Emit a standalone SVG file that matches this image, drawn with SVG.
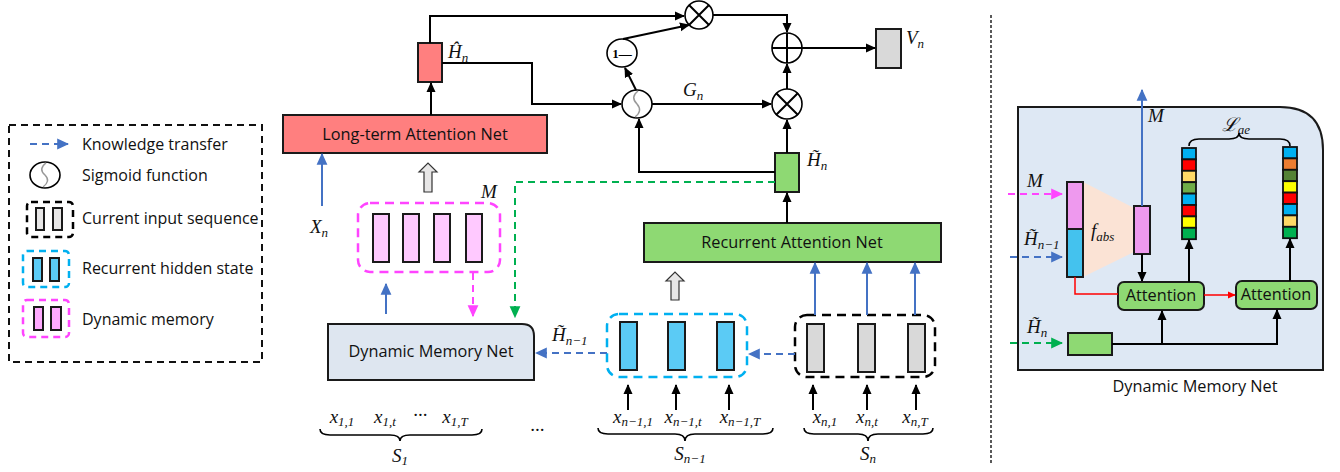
<svg xmlns="http://www.w3.org/2000/svg" width="1340" height="472" viewBox="0 0 1340 472">
<defs>
<style>
.t{font-family:"Open Sans","Liberation Sans",sans-serif;fill:#111;}
.lbl{font-size:16.3px;text-anchor:middle;}
.leg{font-size:16px;}
.m{font-family:"Liberation Serif","DejaVu Serif",serif;font-style:italic;fill:#111;font-size:19px;}
.sub{font-size:13px;}
.bx{stroke:#1a1a1a;stroke-width:2;}
.ln{fill:none;stroke:#000;stroke-width:2;}
.bl{fill:none;stroke:#4472C4;stroke-width:2;}
.bd{fill:none;stroke:#4472C4;stroke-width:2;stroke-dasharray:7 5;}
.md{fill:none;stroke:#FF44FF;stroke-width:2;stroke-dasharray:7 5;}
.gd{fill:none;stroke:#00B050;stroke-width:2;stroke-dasharray:7 5;}
.op{fill:#fff;stroke:#000;stroke-width:1.6;}
.hol{fill:#E7E6E6;stroke:#333;stroke-width:1.2;}
.br{fill:none;stroke:#000;stroke-width:1.6;}
</style>
<marker id="ah" viewBox="0 0 10 10" refX="9" refY="5" markerWidth="10" markerHeight="10" markerUnits="userSpaceOnUse" orient="auto"><path d="M0,0.5 L10,5 L0,9.5 z" fill="#000"/></marker>
<marker id="ab" viewBox="0 0 10 10" refX="9" refY="5" markerWidth="12" markerHeight="12" markerUnits="userSpaceOnUse" orient="auto"><path d="M0,0.5 L10,5 L0,9.5 z" fill="#4472C4"/></marker>
<marker id="am" viewBox="0 0 10 10" refX="9" refY="5" markerWidth="12" markerHeight="12" markerUnits="userSpaceOnUse" orient="auto"><path d="M0,0.5 L10,5 L0,9.5 z" fill="#FF44FF"/></marker>
<marker id="ag" viewBox="0 0 10 10" refX="9" refY="5" markerWidth="12" markerHeight="12" markerUnits="userSpaceOnUse" orient="auto"><path d="M0,0.5 L10,5 L0,9.5 z" fill="#00B050"/></marker>
<marker id="ar" viewBox="0 0 10 10" refX="9" refY="5" markerWidth="8" markerHeight="8" markerUnits="userSpaceOnUse" orient="auto"><path d="M0,0.5 L10,5 L0,9.5 z" fill="#FF0000"/></marker>
</defs>

<!-- Legend -->
<g id="legend">
<rect x="9" y="125" width="253" height="237" fill="#fff" stroke="#111" stroke-width="2" stroke-dasharray="7 5"/>
<path d="M30,144 H68" class="bd" marker-end="url(#ab)"/>
<text class="t leg" x="82" y="150">Knowledge transfer</text>
<ellipse cx="45" cy="175" rx="15" ry="13" class="op"/>
<path d="M46,163 Q38,169 45,175 Q51,181 43,187" fill="none" stroke="#999" stroke-width="1.5"/>
<text class="t leg" x="82" y="181">Sigmoid function</text>
<rect x="27" y="202" width="46" height="35" rx="4" fill="none" stroke="#000" stroke-width="2.5" stroke-dasharray="7 5"/>
<rect x="36" y="208" width="8" height="22" fill="#E7E6E6" class="bx"/>
<rect x="53" y="208" width="9" height="22" fill="#E7E6E6" class="bx"/>
<text class="t leg" x="82" y="224">Current input sequence</text>
<rect x="23" y="251" width="46" height="36" rx="4" fill="none" stroke="#00B0F0" stroke-width="2.5" stroke-dasharray="7 5"/>
<rect x="33" y="258" width="9" height="23" fill="#5BCBF5" class="bx"/>
<rect x="50" y="258" width="9" height="23" fill="#5BCBF5" class="bx"/>
<text class="t leg" x="82" y="274">Recurrent hidden state</text>
<rect x="23" y="300" width="46" height="37" rx="4" fill="none" stroke="#FF44FF" stroke-width="2.5" stroke-dasharray="7 5"/>
<rect x="34" y="307" width="9" height="23" fill="#FFAAFF" class="bx"/>
<rect x="51" y="307" width="10" height="23" fill="#FFAAFF" class="bx"/>
<text class="t leg" x="82" y="325">Dynamic memory</text>
</g>

<!-- Main nodes -->
<g id="long-term-attention-net">
<rect x="283" y="115" width="264" height="38" fill="#FF7F7F" class="bx"/>
<text class="t lbl" x="415" y="140">Long-term Attention Net</text>
</g>
<g id="h-hat">
<rect x="418" y="43" width="24" height="39" fill="#FF7F7F" class="bx"/>
<text class="m" x="448" y="58">Ĥ<tspan class="sub" dy="4">n</tspan></text>
</g>
<g id="mult-top"><circle cx="699" cy="15" r="14" class="op"/><path d="M689,5 L709,25 M709,5 L689,25" class="ln" stroke-width="1.6"/></g>
<g id="one-minus"><ellipse cx="622" cy="53" rx="15" ry="14" class="op"/><text x="622" y="58" text-anchor="middle" font-family="Liberation Serif,serif" font-weight="bold" font-size="13">1—</text></g>
<g id="sigmoid"><ellipse cx="637" cy="104" rx="15" ry="14" class="op"/><path d="M638,91 Q630,97 637,104 Q643,111 635,117" fill="none" stroke="#999" stroke-width="1.5"/></g>
<g id="plus"><circle cx="787" cy="48" r="15" class="op"/><path d="M772,48 H802 M787,33 V63" class="ln" stroke-width="1.6"/></g>
<g id="mult-bottom"><circle cx="787" cy="104" r="15" class="op"/><path d="M776,93 L798,115 M798,93 L776,115" class="ln" stroke-width="1.6"/></g>
<g id="v-n">
<rect x="876" y="29" width="25" height="39" fill="#D9D9D9" class="bx"/>
<text class="m" x="906" y="44">V<tspan class="sub" dy="4">n</tspan></text>
</g>
<g id="h-tilde">
<rect x="775" y="153" width="24" height="39" fill="#8ED973" class="bx"/>
<text class="m" x="807" y="166">H̃<tspan class="sub" dy="4">n</tspan></text>
</g>
<g id="recurrent-attention-net">
<rect x="644" y="223" width="297" height="39" fill="#8ED973" class="bx"/>
<text class="t lbl" x="792" y="248">Recurrent Attention Net</text>
</g>
<g id="memory-M">
<rect x="358" y="203" width="142" height="69" rx="12" fill="none" stroke="#FF44FF" stroke-width="2.5" stroke-dasharray="9 6"/>
<rect x="373" y="214" width="16" height="48" fill="#FFC9FF" class="bx"/>
<rect x="403" y="214" width="16" height="48" fill="#FFC9FF" class="bx"/>
<rect x="434" y="214" width="16" height="48" fill="#FFC9FF" class="bx"/>
<rect x="466" y="214" width="16" height="48" fill="#FFC9FF" class="bx"/>
<text class="m" x="481" y="198">M</text>
</g>
<g id="dynamic-memory-net">
<path d="M328,324 H522 Q534,324 534,336 V380 H328 Z" fill="#DEE6F0" class="bx"/>
<text class="t lbl" x="431" y="357">Dynamic Memory Net</text>
</g>
<g id="hidden-state">
<rect x="607" y="314" width="140" height="63" rx="12" fill="none" stroke="#00B0F0" stroke-width="2.5" stroke-dasharray="9 6"/>
<rect x="620" y="322" width="17" height="48" fill="#5BCBF5" class="bx"/>
<rect x="668" y="322" width="17" height="48" fill="#5BCBF5" class="bx"/>
<rect x="717" y="322" width="17" height="48" fill="#5BCBF5" class="bx"/>
</g>
<g id="input-sequence">
<rect x="795" y="315" width="140" height="62" rx="12" fill="none" stroke="#000" stroke-width="2.5" stroke-dasharray="9 6"/>
<rect x="807" y="324" width="17" height="48" fill="#D9D9D9" class="bx"/>
<rect x="858" y="324" width="17" height="48" fill="#D9D9D9" class="bx"/>
<rect x="908" y="324" width="17" height="48" fill="#D9D9D9" class="bx"/>
</g>

<!-- Labels -->
<g id="labels">
<text class="m" x="683" y="96">G<tspan class="sub" dy="4">n</tspan></text>
<text class="m" x="310" y="233">X<tspan class="sub" dy="4">n</tspan></text>
<text class="m" x="552" y="341">H̃<tspan class="sub" dy="4">n−1</tspan></text>
<text class="m" x="342" y="423" text-anchor="middle">x<tspan class="sub" dy="3">1,1</tspan></text>
<text class="m" x="385" y="423" text-anchor="middle">x<tspan class="sub" dy="3">1,t</tspan></text>
<text class="m" x="420" y="421" text-anchor="middle" font-style="normal" font-size="14">···</text>
<text class="m" x="455" y="423" text-anchor="middle">x<tspan class="sub" dy="3">1,T</tspan></text>
<text class="m" x="633" y="423" text-anchor="middle">x<tspan class="sub" dy="3">n−1,1</tspan></text>
<text class="m" x="683" y="423" text-anchor="middle">x<tspan class="sub" dy="3">n−1,t</tspan></text>
<text class="m" x="740" y="423" text-anchor="middle">x<tspan class="sub" dy="3">n−1,T</tspan></text>
<text class="m" x="825" y="423" text-anchor="middle">x<tspan class="sub" dy="3">n,1</tspan></text>
<text class="m" x="867" y="423" text-anchor="middle">x<tspan class="sub" dy="3">n,t</tspan></text>
<text class="m" x="915" y="423" text-anchor="middle">x<tspan class="sub" dy="3">n,T</tspan></text>
<text class="m" x="537" y="436" text-anchor="middle" font-style="normal" font-size="14">···</text>
<text class="m" x="400" y="462" text-anchor="middle">S<tspan class="sub" dy="3">1</tspan></text>
<text class="m" x="690" y="460" text-anchor="middle">S<tspan class="sub" dy="3">n−1</tspan></text>
<text class="m" x="868" y="460" text-anchor="middle">S<tspan class="sub" dy="3">n</tspan></text>
<path class="br" d="M320,429 Q320,435 330,435 H390 Q400,435 400,441 Q400,435 410,435 H472 Q482,435 482,429"/>
<path class="br" d="M598,428 Q598,434 608,434 H675 Q685,434 685,441 Q685,434 695,434 H763 Q773,434 773,428"/>
<path class="br" d="M804,428 Q804,434 814,434 H858 Q868,434 868,441 Q868,434 878,434 H923 Q933,434 933,428"/>
</g>

<!-- Connectors -->
<g id="connectors">
<path d="M431,115 V83" class="ln" marker-end="url(#ah)"/>
<path d="M430,43 V16 H684" class="ln" marker-end="url(#ah)"/>
<path d="M442,63 H532 V104 H621" class="ln" marker-end="url(#ah)"/>
<path d="M636,90 L625,68" class="ln" marker-end="url(#ah)"/>
<path d="M623,39 L689,25" class="ln" marker-end="url(#ah)"/>
<path d="M713,15 H787 V32" class="ln" marker-end="url(#ah)"/>
<path d="M802,48 H875" class="ln" marker-end="url(#ah)"/>
<path d="M652,104 H771" class="ln" marker-end="url(#ah)"/>
<path d="M787,89 V64" class="ln" marker-end="url(#ah)"/>
<path d="M787,153 V120" class="ln" marker-end="url(#ah)"/>
<path d="M775,172 H639 V119" class="ln" marker-end="url(#ah)"/>
<path d="M787,223 V193" class="ln" marker-end="url(#ah)"/>
<path d="M775,182 H515 V317" class="gd" marker-end="url(#ag)"/>
<path d="M322,206 V154" class="bl" marker-end="url(#ab)"/>
<path d="M386,314 V284" class="bl" marker-end="url(#ab)"/>
<path d="M473,273 V316" class="md" marker-end="url(#am)"/>
<path d="M607,353 H536" class="bd" marker-end="url(#ab)"/>
<path d="M795,354 H749" class="bd" marker-end="url(#ab)"/>
<path d="M815,315 V263" class="bl" marker-end="url(#ab)"/>
<path d="M867,315 V263" class="bl" marker-end="url(#ab)"/>
<path d="M915,315 V263" class="bl" marker-end="url(#ab)"/>
<path d="M628,410 V385" class="ln" marker-end="url(#ah)"/>
<path d="M676,410 V385" class="ln" marker-end="url(#ah)"/>
<path d="M729,410 V385" class="ln" marker-end="url(#ah)"/>
<path d="M813,410 V385" class="ln" marker-end="url(#ah)"/>
<path d="M867,410 V385" class="ln" marker-end="url(#ah)"/>
<path d="M916,410 V385" class="ln" marker-end="url(#ah)"/>
<path d="M424,192 V172 H419 L428,163 L437,172 H432 V192 Z" class="hol"/>
<path d="M671,300 V281 H666 L675,272 L684,281 H679 V300 Z" class="hol"/>
</g>

<line x1="991" y1="15" x2="991" y2="463" stroke="#595959" stroke-width="2" stroke-dasharray="3 2"/>

<!-- Right panel -->
<g id="dmn-detail">
<path d="M1018,107 H1280 Q1323,107 1323,150 V370 H1018 Z" fill="#DEE8F4" class="bx"/>
<text class="t lbl" x="1195" y="392">Dynamic Memory Net</text>
</g>
<g id="f-abs">
<polygon points="1083,182 1134,208 1134,252 1083,277" fill="#FBE3D5"/>
<rect x="1067" y="182" width="16" height="47" fill="#EE99EE" class="bx"/>
<rect x="1067" y="229" width="16" height="48" fill="#44C2EE" class="bx"/>
<rect x="1134" y="206" width="16" height="48" fill="#EE99EE" class="bx"/>
<text class="m" x="1091" y="237" font-size="24">f<tspan class="sub" font-size="16" dy="4">abs</tspan></text>
</g>
<g id="h-tilde-small">
<rect x="1068" y="333" width="44" height="22" fill="#8ED973" class="bx"/>
</g>
<g id="attention-1">
<rect x="1118" y="282" width="86" height="28" rx="6" fill="#8ED973" class="bx"/>
<text class="t lbl" x="1161" y="301" font-size="14.5">Attention</text>
</g>
<g id="attention-2">
<rect x="1236" y="281" width="81" height="28" rx="6" fill="#8ED973" class="bx"/>
<text class="t lbl" x="1276" y="300" font-size="14.5">Attention</text>
</g>
<g id="vector-1" stroke="#111" stroke-width="1.8">
<rect x="1182" y="148" width="14" height="11.4" fill="#00B0F0"/>
<rect x="1182" y="159.4" width="14" height="11.4" fill="#FF0000"/>
<rect x="1182" y="170.8" width="14" height="11.4" fill="#FFD966"/>
<rect x="1182" y="182.2" width="14" height="11.4" fill="#70AD47"/>
<rect x="1182" y="193.6" width="14" height="11.4" fill="#00B0F0"/>
<rect x="1182" y="205" width="14" height="11.4" fill="#FF0000"/>
<rect x="1182" y="216.4" width="14" height="11.4" fill="#FFFF00"/>
<rect x="1182" y="227.8" width="14" height="11.4" fill="#00B050"/>
</g>
<g id="vector-2" stroke="#111" stroke-width="1.8">
<rect x="1283" y="147" width="14" height="11.4" fill="#00B0F0"/>
<rect x="1283" y="158.4" width="14" height="11.4" fill="#ED7D31"/>
<rect x="1283" y="169.8" width="14" height="11.4" fill="#548235"/>
<rect x="1283" y="181.2" width="14" height="11.4" fill="#FFFF00"/>
<rect x="1283" y="192.6" width="14" height="11.4" fill="#FF0000"/>
<rect x="1283" y="204" width="14" height="11.4" fill="#00B0F0"/>
<rect x="1283" y="215.4" width="14" height="11.4" fill="#FFD966"/>
<rect x="1283" y="226.8" width="14" height="11.4" fill="#00B050"/>
</g>
<g id="right-labels">
<text class="m" x="1148" y="122" font-size="17">M</text>
<text class="m" x="1027" y="187" font-size="17">M</text>
<text class="m" x="1024" y="245" font-size="17">H̃<tspan class="sub" dy="4">n−1</tspan></text>
<text class="m" x="1027" y="333" font-size="17">H̃<tspan class="sub" dy="4">n</tspan></text>
<text class="m" x="1236" y="131" text-anchor="middle" font-size="18">ℒ<tspan class="sub" dy="3">ae</tspan></text>
<path class="br" d="M1189,146 Q1189,139 1199,139 H1229 Q1239,139 1239,133 Q1239,139 1249,139 H1280 Q1290,139 1290,146"/>
</g>
<g id="right-connectors">
<path d="M1142,206 V90" class="bl" marker-end="url(#ab)"/>
<path d="M1008,194 H1062" class="md" marker-end="url(#am)"/>
<path d="M1010,257 H1062" class="bd" marker-end="url(#ab)"/>
<path d="M1010,343 H1062" class="gd" marker-end="url(#ag)"/>
<path d="M1142,254 V281" class="ln" stroke-width="1.6" marker-end="url(#ah)"/>
<path d="M1075,277 V294 H1118" fill="none" stroke="#FF0000" stroke-width="1.5"/>
<path d="M1204,295 H1235" fill="none" stroke="#FF0000" stroke-width="1.5" marker-end="url(#ar)"/>
<path d="M1112,344 H1277 V310" class="ln" marker-end="url(#ah)"/>
<path d="M1162,344 V311" class="ln" marker-end="url(#ah)"/>
<path d="M1189,282 V240" class="ln" marker-end="url(#ah)"/>
<path d="M1290,281 V239" class="ln" marker-end="url(#ah)"/>
</g>
</svg>
